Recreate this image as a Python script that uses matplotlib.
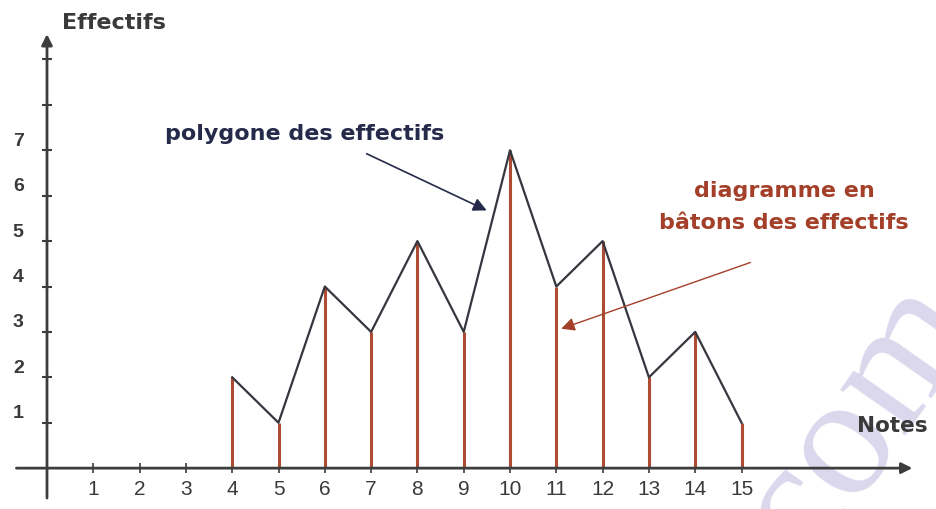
import numpy as np
import matplotlib
matplotlib.use("Agg")
from matplotlib import pyplot as plt

# notes and effectifs
notes = [4, 5, 6, 7, 8, 9, 10, 11, 12, 13, 14, 15]
effectifs = [2, 1, 4, 3, 5, 3, 7, 4, 5, 2, 3, 1]
xticks = list(range(1, 16))
yticks = [1, 2, 3, 4, 5, 6, 7]
yticks_extra = [8, 9]

stem_col = '#ad4c34'
poly_col = '#35363f'
axis_col = '#3d3d3d'

plt.rcParams['font.family'] = ['Liberation Sans', 'DejaVu Sans']

fig = plt.figure(figsize=(9.36, 5.09), dpi=100)
ax = fig.add_axes([0, 0, 1, 1])
ax.set_xlim(-1.015, 19.2)
ax.set_ylim(-0.9, 10.31)
ax.axis('off')

# watermark
ax.text(17.55, 1.05, 'com', ha='center', va='center', fontsize=125,
        family='Liberation Serif', rotation=55, color='#dbd7ed', zorder=0)

# axes with arrows
ax.annotate('', xy=(18.75, 0), xytext=(-0.72, 0),
            arrowprops=dict(arrowstyle='-|>', color=axis_col, lw=2, mutation_scale=16))
ax.annotate('', xy=(0, 9.62), xytext=(0, -0.72),
            arrowprops=dict(arrowstyle='-|>', color=axis_col, lw=2, mutation_scale=16))

# tick marks
ax.plot(xticks, [0] * len(xticks), ls='none', marker='|', ms=7, mew=1.2, color=axis_col)
ax.plot([0] * len(yticks + yticks_extra), yticks + yticks_extra, ls='none', marker='_',
        ms=7, mew=1.5, color=axis_col)

for x in xticks:
    ax.text(x, -0.48, str(x), ha='center', va='center', fontsize=15, color='#3a3a3a')
for y in yticks:
    ax.text(-0.62, y + 0.2, str(y), ha='center', va='center', fontsize=14,
            fontweight='bold', color='#3a3a3a')

ax.text(0.32, 9.8, 'Effectifs', ha='left', va='center', fontsize=16,
        family='DejaVu Sans', fontweight='bold', color='#3a3a3a')
ax.text(17.5, 0.92, 'Notes', ha='left', va='center', fontsize=15.5,
        family='DejaVu Sans', fontweight='bold', color='#3a3a3a')

# baton diagram
ax.vlines(notes, 0, effectifs, colors=stem_col, lw=2.2)
# polygone
ax.plot(notes, effectifs, color=poly_col, lw=1.6)

ax.text(2.55, 7.35, 'polygone des effectifs', ha='left', va='center', fontsize=16,
        family='DejaVu Sans', fontweight='bold', color='#262a4a')
ax.annotate('', xy=(9.55, 5.65), xytext=(6.85, 6.95),
            arrowprops=dict(arrowstyle='-|>', color='#262a4a', lw=1.2, mutation_scale=20))

ax.text(15.92, 5.76, 'diagramme en\nbâtons des effectifs', ha='center', va='center',
        fontsize=16, family='DejaVu Sans', fontweight='bold', color='#a4402a',
        linespacing=1.75)
ax.annotate('', xy=(11.05, 3.05), xytext=(15.25, 4.55),
            arrowprops=dict(arrowstyle='-|>', color='#a4402a', lw=1.0, mutation_scale=20))

fig.savefig('out.png', dpi=100)
